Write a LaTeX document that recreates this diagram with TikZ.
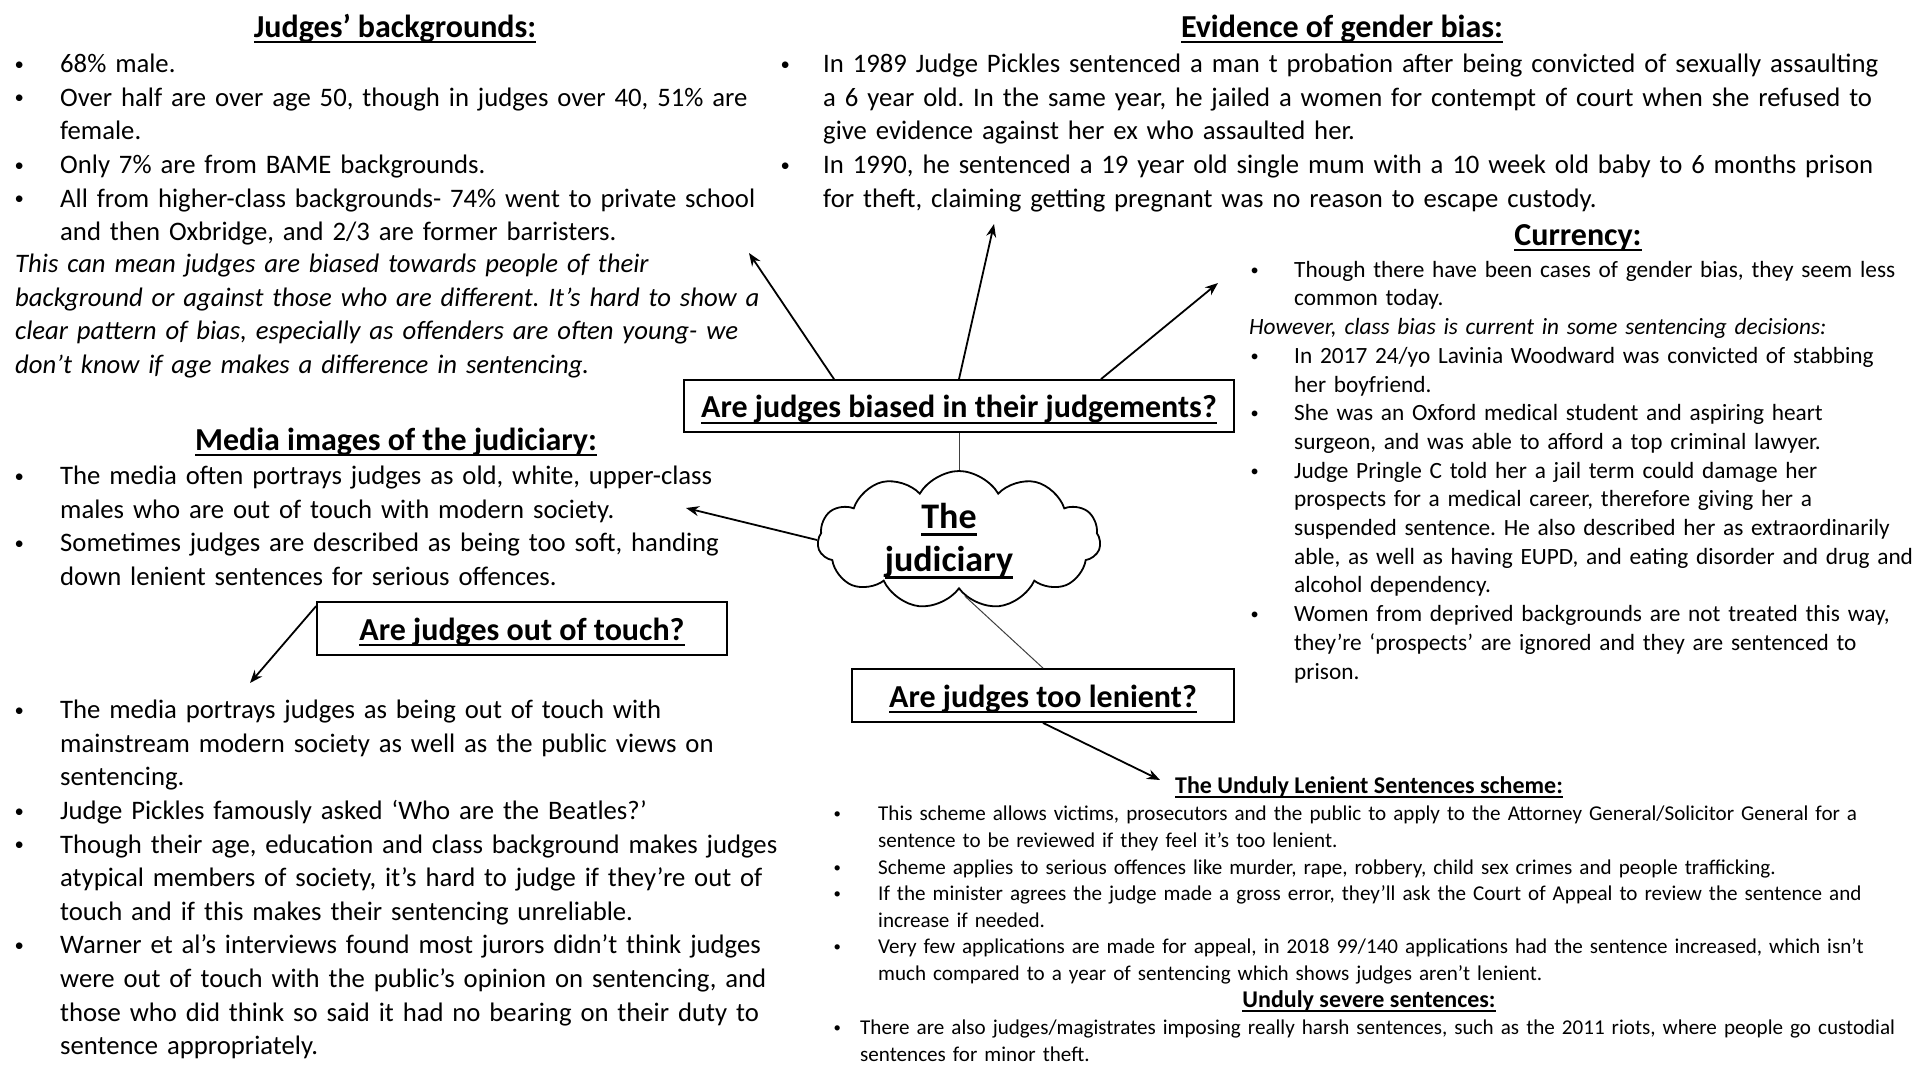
\documentclass[tikz,border=0pt]{standalone}
\usepackage{fontspec}
\setmainfont{Carlito}
\usetikzlibrary{arrows.meta,positioning,shapes.symbols}
\frenchspacing

\newlength\bw
\newcommand\bmark{\makebox[\bw][l]{\strut\hspace{1.5pt}\raisebox{0.09em}{\scalebox{0.7}{\textbullet}}}}
\newcommand\bfirst{\hangindent\bw\hangafter1\bmark}
\newcommand\bitem{\par\noindent\bfirst}
\newcommand\undl[1]{\setbox0\hbox{#1}\rlap{\rule[-0.2em]{\wd0}{0.065em}}\box0}

\begin{document}
\begin{tikzpicture}[x=1pt, y=-1pt,
    every node/.style={inner sep=0pt},
    body/.style={anchor=north west, align=left, text width=1100pt, font=\fontsize{26.7}{33.6}\selectfont},
    bodymid/.style={body, font=\fontsize{23.3}{28.7}\selectfont},
    bodysm/.style={body, font=\fontsize{21.1}{26.6}\selectfont},
    heading/.style={anchor=base, font=\fontsize{32}{38}\selectfont\bfseries},
    subhead/.style={anchor=base, font=\fontsize{24}{28}\selectfont\bfseries},
    box/.style={draw=black, line width=1.8pt, align=center, text height=30pt, text depth=7pt, font=\fontsize{32}{38}\selectfont\bfseries},
    arr/.style={-{Stealth[length=13pt, width=10pt]}, line width=1.8pt},
    link/.style={draw=black!75, line width=1pt}
  ]
    \useasboundingbox[fill=white] (0,0) rectangle (1920,1080);

    % left column
    \node[heading] (judgh) at (395,37) {\undl{Judges' backgrounds:}};
    \node[body] (judg) at (13,49) {\setlength\bw{47pt}%
      \bfirst 68\% male.
      \bitem Over half are over age 50, though in judges over 40, 51\% are\newline female.
      \bitem Only 7\% are from BAME backgrounds.
      \bitem All from higher-class backgrounds- 74\% went to private school\newline and then Oxbridge, and 2/3 are former barristers.\par};
    \node[body, font=\fontsize{26.7}{33.6}\selectfont\itshape] (judgit) at (15,249) {\strut This can mean judges are biased towards people of their\newline background or against those who are different. It's hard to show a\newline clear pattern of bias, especially as offenders are often young- we\newline don't know if age makes a difference in sentencing.};

    \node[heading] (medh) at (396,450) {\undl{Media images of the judiciary:}};
    \node[body] (med) at (13,461) {\setlength\bw{47pt}%
      \bfirst The media often portrays judges as old, white, upper-class\newline males who are out of touch with modern society.
      \bitem Sometimes judges are described as being too soft, handing\newline down lenient sentences for serious offences.\par};

    \node[box, minimum width=410pt, minimum height=53pt] (touch) at (522,628.5) {\undl{Are judges out of touch?}};
    \node[body] (touchl) at (13,695) {\setlength\bw{47pt}%
      \bfirst The media portrays judges as being out of touch with\newline mainstream modern society as well as the public views on\newline sentencing.
      \bitem Judge Pickles famously asked `Who are the Beatles?'
      \bitem Though their age, education and class background makes judges\newline atypical members of society, it's hard to judge if they're out of\newline touch and if this makes their sentencing unreliable.
      \bitem Warner et al's interviews found most jurors didn't think judges\newline were out of touch with the public's opinion on sentencing, and\newline those who did think so said it had no bearing on their duty to\newline sentence appropriately.\par};

    % right column
    \node[heading] (gendh) at (1342,37) {\undl{Evidence of gender bias:}};
    \node[body] (gend) at (779,49) {\setlength\bw{44pt}%
      \bfirst In 1989 Judge Pickles sentenced a man t probation after being convicted of sexually assaulting\newline a 6 year old. In the same year, he jailed a women for contempt of court when she refused to\newline give evidence against her ex who assaulted her.
      \bitem In 1990, he sentenced a 19 year old single mum with a 10 week old baby to 6 months prison\newline for theft, claiming getting pregnant was no reason to escape custody.\par};

    \node[heading] (curh) at (1578,245) {\undl{Currency:}};
    \node[bodymid] (cur) at (1249,257) {\setlength\bw{45pt}%
      \bfirst Though there have been cases of gender bias, they seem less\newline common today.
      \par\noindent\textit{However, class bias is current in some sentencing decisions:}
      \bitem In 2017 24/yo Lavinia Woodward was convicted of stabbing\newline her boyfriend.
      \bitem She was an Oxford medical student and aspiring heart\newline surgeon, and was able to afford a top criminal lawyer.
      \bitem Judge Pringle C told her a jail term could damage her\newline prospects for a medical career, therefore giving her a\newline suspended sentence. He also described her as extraordinarily\newline able, as well as having EUPD, and eating disorder and drug and\newline alcohol dependency.
      \bitem Women from deprived backgrounds are not treated this way,\newline they're `prospects' are ignored and they are sentenced to\newline prison.\par};

    % centre
    \node[box, minimum width=550pt, minimum height=52pt] (biased) at (959,406) {\undl{Are judges biased in their judgements?}};
    \node[cloud, cloud puffs=11, cloud puff arc=120, aspect=2, draw, line width=1.8pt,
      minimum width=283pt, minimum height=138pt] (cl) at (959,540) {};
    \node[align=center, font=\fontsize{36}{43}\selectfont\bfseries] (jud) at (949,541) {\undl{The}\\\undl{judiciary}};
    \node[box, minimum width=382pt, minimum height=53pt] (lenient) at (1043,695.5) {\undl{Are judges too lenient?}};

    \node[subhead] (schh) at (1369,793) {\undl{The Unduly Lenient Sentences scheme:}};
    \node[bodysm] (sch) at (832,802) {\setlength\bw{46pt}%
      \bfirst This scheme allows victims, prosecutors and the public to apply to the Attorney General/Solicitor General for a\newline sentence to be reviewed if they feel it's too lenient.
      \bitem Scheme applies to serious offences like murder, rape, robbery, child sex crimes and people trafficking.
      \bitem If the minister agrees the judge made a gross error, they'll ask the Court of Appeal to review the sentence and\newline increase if needed.
      \bitem Very few applications are made for appeal, in 2018 99/140 applications had the sentence increased, which isn't\newline much compared to a year of sentencing which shows judges aren't lenient.\par};
    \node[subhead] (sevh) at (1369,1007) {\undl{Unduly severe sentences:}};
    \node[bodysm] (sev) at (832,1016) {\setlength\bw{28pt}%
      \bfirst There are also judges/magistrates imposing really harsh sentences, such as the 2011 riots, where people go custodial\newline sentences for minor theft.\par};

    % connectors
    \coordinate (tipjudg) at (749,253);
    \coordinate (tipgend) at (994,224);
    \coordinate (tipcur) at (1218,283);
    \coordinate (tipmed) at (686,508);
    \coordinate (tiptouch) at (250,683);
    \coordinate (tipsch) at (1160,780);
    \draw[arr] ([xshift=-125pt]biased.north) -- (tipjudg);
    \draw[arr] (biased.north) -- (tipgend);
    \draw[arr] ([xshift=142pt]biased.north) -- (tipcur);
    \draw[link] (biased) -- (cl);
    \draw[link] (cl.-84) -- (lenient.north);
    \draw[arr] (cl.west) -- (tipmed);
    \draw[arr] ([yshift=-5pt]touch.north west) -- (tiptouch);
    \draw[arr] (lenient.south) -- (tipsch);
  \end{tikzpicture}
\end{document}
